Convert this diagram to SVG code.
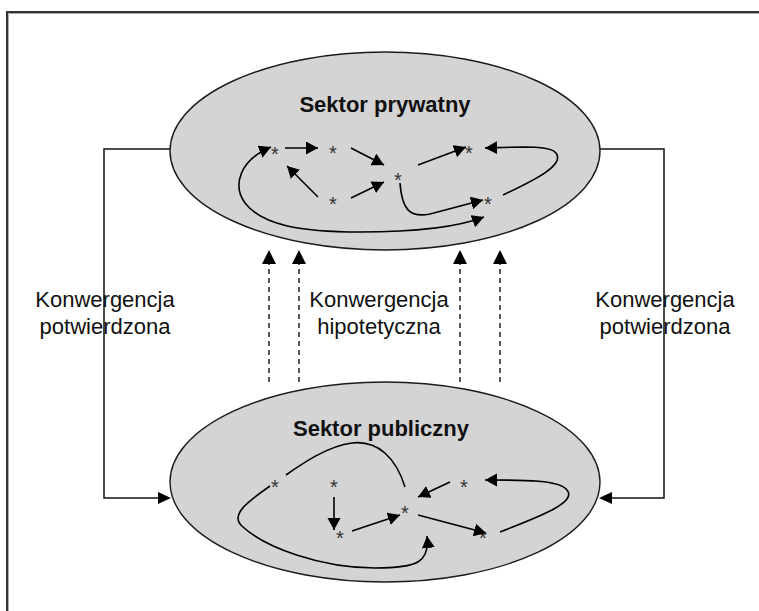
<svg xmlns="http://www.w3.org/2000/svg" width="759" height="611" viewBox="0 0 759 611">
<style>
.ell{fill:#d4d4d4;stroke:#1a1a1a;stroke-width:1.4}
.title{font-family:"Liberation Sans",Arial,sans-serif;font-weight:bold;font-size:22px;text-anchor:middle;fill:#111}
.lbl{font-family:"Liberation Sans",Arial,sans-serif;font-size:22px;text-anchor:middle;fill:#111}
.star{font-family:"Liberation Sans",Arial,sans-serif;font-size:20px;text-anchor:middle;fill:#333}
.ar{fill:none;stroke:#000;stroke-width:1.6}
.conn{fill:none;stroke:#111;stroke-width:1.5}
.dash{fill:none;stroke:#111;stroke-width:1.4;stroke-dasharray:5 4}
</style>
<defs>
<marker id="ah" markerUnits="userSpaceOnUse" markerWidth="14" markerHeight="14" refX="12" refY="6.5" orient="auto-start-reverse" viewBox="0 0 14 14">
<path d="M0,0 L12,6.5 L0,13 z" fill="#000"/>
</marker>
</defs>
<g id="frame">
<path d="M8.5,611 V13.5 H759" fill="none" stroke="#aaa" stroke-width="1"/>
<path d="M7,611 V12 H759" fill="none" stroke="#333" stroke-width="2"/>
</g>
<g id="connectors">
<path class="conn" d="M172,149 H104 V498 H158"/>
<path class="conn" d="M598,149 H664 V498 H612"/>
<path d="M158,492 L171,498 L158,504 z" fill="#000"/>
<path d="M612,492 L599,498 L612,504 z" fill="#000"/>
<path class="dash" d="M269,382 V262"/>
<path class="dash" d="M299,382 V262"/>
<path class="dash" d="M460,382 V262"/>
<path class="dash" d="M500,382 V262"/>
<path d="M262,264 L269,250 L276,264 z" fill="#000"/>
<path d="M292,264 L299,250 L306,264 z" fill="#000"/>
<path d="M453,264 L460,250 L467,264 z" fill="#000"/>
<path d="M493,264 L500,250 L507,264 z" fill="#000"/>
</g>
<g id="sektor-prywatny">
<ellipse class="ell" cx="385" cy="151" rx="215" ry="99"/>
<text class="title" x="385" y="112">Sektor prywatny</text>
<text class="star" x="275" y="161">*</text>
<text class="star" x="333" y="160">*</text>
<text class="star" x="398" y="187">*</text>
<text class="star" x="469" y="160">*</text>
<text class="star" x="333" y="211">*</text>
<text class="star" x="488" y="211">*</text>
<path class="ar" marker-end="url(#ah)" d="M285,148 L318,148"/>
<path class="ar" marker-end="url(#ah)" d="M351,148 L384,165"/>
<path class="ar" marker-end="url(#ah)" d="M318,197 L287,166"/>
<path class="ar" marker-end="url(#ah)" d="M351,198 L384,182"/>
<path class="ar" marker-end="url(#ah)" d="M418,165 L466,147"/>
<path class="ar" marker-end="url(#ah)" d="M400,183 C402,210 410,218 430,214 L483,200"/>
<path class="ar" marker-end="url(#ah)" d="M503,195 C535,180 565,165 556,153 C550,145 520,147 485,148"/>
<path class="ar" marker-start="url(#ah)" marker-end="url(#ah)" d="M271,147 C240,160 232,185 245,203 C262,225 300,232 360,232 C400,232 450,230 484,217"/>
</g>
<g id="sektor-publiczny">
<ellipse class="ell" cx="385" cy="482" rx="215" ry="100"/>
<text class="title" x="381" y="436">Sektor publiczny</text>
<text class="star" x="275" y="494">*</text>
<text class="star" x="334" y="494">*</text>
<text class="star" x="405" y="520">*</text>
<text class="star" x="464" y="494">*</text>
<text class="star" x="340" y="545">*</text>
<text class="star" x="483" y="545">*</text>
<path class="ar" marker-end="url(#ah)" d="M334,497 L334,530"/>
<path class="ar" marker-end="url(#ah)" d="M352,531 L400,515"/>
<path class="ar" marker-end="url(#ah)" d="M450,482 L418,497"/>
<path class="ar" marker-end="url(#ah)" d="M418,515 L486,533"/>
<path class="ar" marker-end="url(#ah)" d="M500,532 C535,518 578,503 567,490 C560,480 525,480 485,480"/>
<path class="ar" d="M405,487 C396,458 378,440 352,443 C328,446 303,463 286,475"/>
<path class="ar" marker-end="url(#ah)" d="M270,486 C250,500 228,515 243,527 C265,547 320,568 375,568 C418,568 430,562 427,536"/>
</g>
<g id="labels">
<text class="lbl" x="105" y="307">Konwergencja</text>
<text class="lbl" x="105" y="334">potwierdzona</text>
<text class="lbl" x="379" y="307">Konwergencja</text>
<text class="lbl" x="379" y="334">hipotetyczna</text>
<text class="lbl" x="665" y="307">Konwergencja</text>
<text class="lbl" x="665" y="334">potwierdzona</text>
</g>
</svg>
